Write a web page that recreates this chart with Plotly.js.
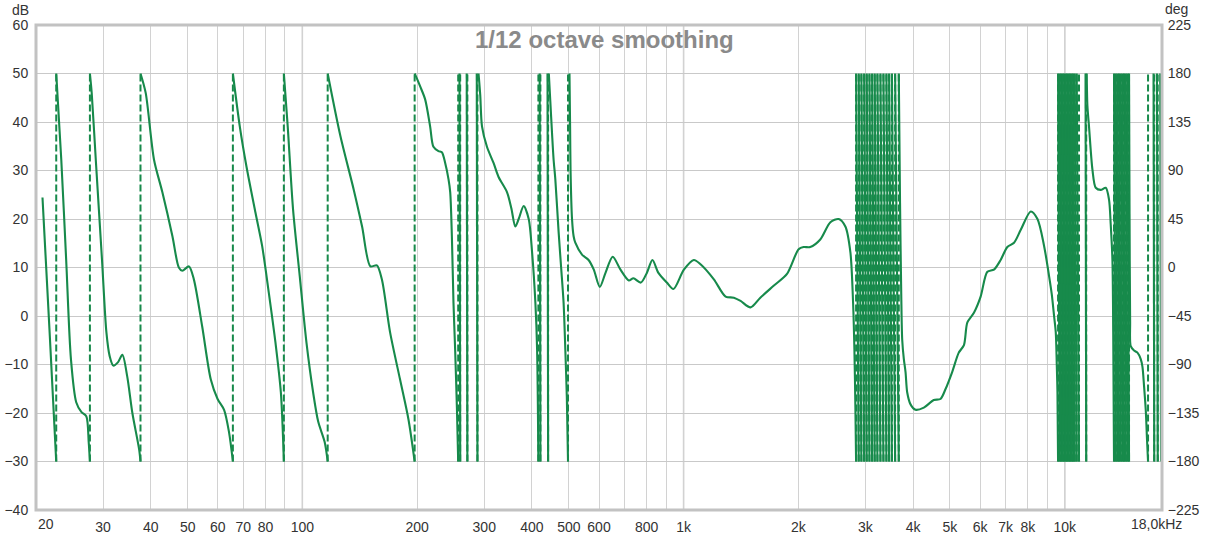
<!DOCTYPE html>
<html>
<head>
<meta charset="utf-8">
<script src="https://cdn.plot.ly/plotly-3.0.1.min.js"></script>
<style>
  html, body { margin: 0; padding: 0; background: #ffffff; }
  #chart { width: 1210px; height: 537px; }
</style>
</head>
<body>
<div id="chart"></div>
<script>
// Wrapped phase response (deg) against frequency (Hz), 1/12 octave smoothing.
// Each run of points falls from +180 to -180; null marks a wrap.

// 20 Hz - 500 Hz
const lowFreq = [
  20.8, 21.7, 22.6, null,
  22.6, 23.3, 24.0, 24.7, 25.5, 26.3, 27.1, 27.5, 27.7, null,
  27.7, 28.0, 28.7, 29.8, 30.6, 31.2, 31.9, 32.8, 33.7, 34.7, 35.8, 37.3, 37.6, null,
  37.6, 38.8, 40.8, 42.9, 45.6, 47.4, 48.4, 50.4, 51.9, 54.6, 57.5, 59.9, 62.3, 64.2, 65.7, null,
  65.7, 68.5, 71.3, 75.3, 78.4, 81.6, 85.0, 87.8, 89.4, null,
  89.4, 91.5, 94.5, 98.4, 102.5, 106.7, 110.0, 114.4, 116.5, null,
  116.5, 125.8, 136.4, 143.4, 150.8, 156.8, 161.6, 169.8, 180.4, 189.8, 197.0, null,
  197.0, 198.2, 203.7, 209.9, 216.3, 220.7, 227.5, 232.2, 236.9, 241.7, 244.2, 246.7, 249.1, 251.6, 254.3, 256.3, null,
  258.3, 259.4, null,
  269.8, 270.9, null,
  286.7, 287.9, null,
  289.8, 292.8, 295.9, 304.9, 317.3, 327.1, 344.1, 353.3, 361.9, 369.3, 380.7, 392.4, 400.5, 408.6, 412.8, 416.0, null,
  419.3, 421.1, null,
  439.6, 441.2, null,
  443.1, 447.0, 451.7, 456.1, 460.8, 470.1, 477.3, 484.5, 489.5, 494.0, 497.6
];
const lowDeg = [
  65, -58, -180, null,
  180, 100, 7, -85, -125, -134, -138, -162, -180, null,
  180, 162, 100, 7, -60, -82, -91, -88, -81, -101, -135, -169, -180, null,
  180, 162, 100, 70, 29, 0, -3, 1, -11, -55, -104, -122, -132, -153, -180, null,
  180, 131, 94, 51, 20, -23, -70, -116, -180, null,
  180, 131, 54, -8, -70, -116, -143, -162, -180, null,
  180, 122, 72, 38, 1, 2, -11, -60, -104, -141, -180, null,
  180, 178, 168, 156, 131, 112, 108, 107, 97, 82, 70, 29, -33, -76, -130, -180, null,
  180, -180, null,
  180, -180, null,
  180, -180, null,
  180, 160, 131, 112, 97, 84, 70, 55, 38, 45, 57, 45, 14, -33, -76, -180, null,
  180, -180, null,
  180, -180, null,
  180, 155, 125, 100, 82, 33, 0, -33, -76, -120, -180
];

// 500 Hz - 2.8 kHz
const midFreq = [502, 503.9, 505.2, 509.8, 514.7, 520.0, 541.4, 563.4, 581.4, 602.9, 624.0, 651.8,
  683.2, 718.4, 738.6, 772.4, 801, 828.6, 859.1, 903.8, 940.5, 1002, 1064, 1108, 1201, 1289, 1355,
  1411, 1499, 1590, 1723, 1868, 2004, 2065, 2150, 2284, 2428, 2553, 2658, 2740, 2785, 2807, 2824, 2836];
const midDeg = [180, 130, 91, 45, 29, 23, 12, 7, -2, -18, -5, 10,
  -2, -12, -10, -14, -5, 7, -5, -14, -20, -2, 7, 3, -11, -27, -28,
  -31, -37, -28, -17, -6, 17, 19, 19, 26, 42, 45, 38, 14, -33, -76, -130, -180];

// fast wraps, 2.8 - 3.7 kHz
const wraps3k = [2836, 2881, 2928, 2977, 3024, 3074, 3124, 3173, 3226, 3285, 3345, 3406, 3462, 3521, 3590, 3670];

// 3.7 kHz - 9.6 kHz
const highFreq = [3670, 3698, 3727, 3747, 3784, 3823, 3862, 3940, 4061, 4270, 4534, 4721, 4865, 5067,
  5273, 5440, 5554, 5779, 6018, 6267, 6522, 6791, 7072, 7364, 7669, 8146, 8483, 8829, 9099, 9249,
  9378, 9474, 9532, 9572, 9608];
const highDeg = [180, 60, -30, -67, -85, -97, -116, -127, -132, -130, -123, -122, -113, -97,
  -79, -72, -51, -42, -27, -4, -2, 7, 19, 23, 35, 52, 45, 20, -8, -25,
  -45, -60, -90, -116, -180];

// fast wraps, 9.6 - 10.9 kHz
const wraps10k = [9608, 9702, 9791, 9880, 9970, 10061, 10152, 10245, 10338, 10432, 10527, 10623, 10752, 10902];

// 11.3 kHz - 13.5 kHz
const shelfFreq = [11340, 11388, null, 11422, 11470, 11581, 11822, 12063, 12431, 12812, 13070, 13205, 13342, 13406, 13471];
const shelfDeg  = [180, -180, null, 180, 150, 131, 91, 74, 72, 74, 63, 40, 7, -60, -180];

// fast wraps, 13.5 - 14.7 kHz
const wraps14k = [13471, 13610, 13751, 13885, 14028, 14173, 14310, 14458, 14608, 14749];

// 14.7 kHz - 18 kHz
const topFreq = [14749, 14795, 14848, 14902, 15202, 15518, 15830, 15993, 16150, 16316, 16445, 16545, null,
  17104, 17176, null, 17459, 17544, null, 17811, 17897];
const topDeg  = [180, 50, -50, -73, -77, -79, -85, -92, -110, -132, -160, -180, null,
  180, -180, null, 180, -180, null, 180, -180];

// frequency grid and labels
const gridFreq = [20, 30, 40, 50, 60, 70, 80, 90, 100, 200, 300, 400, 500, 600, 700, 800, 900,
  1000, 2000, 3000, 4000, 5000, 6000, 7000, 8000, 9000, 10000];
const gridText = ['', '30', '40', '50', '60', '70', '80', '', '100', '200', '300', '400', '500', '600', '',
  '800', '', '1k', '2k', '3k', '4k', '5k', '6k', '7k', '8k', '', '10k'];
const decadeFreq = [100, 1000, 10000];
const dbTicks = [-40, -30, -20, -10, 0, 10, 20, 30, 40, 50, 60];
const degTicks = [-225, -180, -135, -90, -45, 0, 45, 90, 135, 180, 225];

// wrapped phase limits
const wrapTop = 180, wrapBottom = -180;

// a run of fast wraps: one full turn between consecutive wrap frequencies
function wrapRun(wraps) {
  const f = [], p = [];
  for (let i = 0; i < wraps.length - 1; i++) {
    if (i) { f.push(null); p.push(null); }
    f.push(wraps[i], wraps[i + 1]);
    p.push(wrapTop, wrapBottom);
  }
  return { f, p };
}

const pieces = [
  { f: lowFreq, p: lowDeg },
  { f: midFreq, p: midDeg },
  wrapRun(wraps3k),
  { f: highFreq, p: highDeg },
  wrapRun(wraps10k),
  { f: shelfFreq, p: shelfDeg },
  wrapRun(wraps14k),
  { f: topFreq, p: topDeg }
];

const phaseF = [], phaseP = [];
pieces.forEach((pc, k) => {
  if (k) { phaseF.push(null); phaseP.push(null); }
  phaseF.push(...pc.f);
  phaseP.push(...pc.p);
});

// dashed jump lines at every wrap
const jumpF = [], jumpP = [];
for (let i = 0; i < phaseF.length - 2; i++) {
  if (phaseF[i] !== null && phaseF[i + 1] === null && phaseF[i + 2] !== null) {
    jumpF.push(phaseF[i], phaseF[i], null);
    jumpP.push(phaseP[i], phaseP[i + 2], null);
  }
}

const green = '#178a4b';
const font = 'Liberation Sans, Arial, sans-serif';

const traces = [
  // keeps the dB axis active so its labels are drawn
  {
    x: [null], y: [null], yaxis: 'y', type: 'scatter', mode: 'lines',
    hoverinfo: 'skip', showlegend: false
  },
  {
    x: jumpF, y: jumpP, yaxis: 'y2', type: 'scatter', mode: 'lines',
    line: { color: green, width: 2, dash: '7px,3px' },
    connectgaps: false, hoverinfo: 'skip', showlegend: false
  },
  {
    x: phaseF, y: phaseP, yaxis: 'y2', type: 'scatter', mode: 'lines',
    line: { color: green, width: 2.1, shape: 'spline', smoothing: 0.8 },
    connectgaps: false, hoverinfo: 'skip', showlegend: false
  }
];

const shapes = decadeFreq.map(f => ({
  type: 'line', xref: 'x', yref: 'paper', x0: f, x1: f, y0: 0, y1: 1,
  line: { color: '#a3a3a3', width: 1.3 }, layer: 'below'
}));
shapes.push({
  type: 'rect', xref: 'paper', yref: 'paper', x0: 0, x1: 1, y0: 0, y1: 1,
  line: { color: '#c2c2c2', width: 3 }, layer: 'above'
});

const tickFont = { family: font, size: 14, color: '#333333' };

const layout = {
  width: 1210, height: 537,
  margin: { l: 36, r: 48, t: 25, b: 27 },
  paper_bgcolor: '#ffffff', plot_bgcolor: '#ffffff',
  showlegend: false,
  xaxis: {
    type: 'log', range: [Math.log10(20), Math.log10(18000)],
    tickmode: 'array', tickvals: gridFreq, ticktext: gridText,
    showgrid: true, gridcolor: '#d2d2d2', gridwidth: 1,
    zeroline: false, showline: false,
    ticks: 'outside', ticklen: 4, tickcolor: 'rgba(0,0,0,0)',
    tickfont: tickFont, fixedrange: true
  },
  yaxis: {
    range: [-40, 60], tickmode: 'array', tickvals: dbTicks,
    showgrid: true, gridcolor: '#c9c9c9', gridwidth: 1,
    zeroline: false, showline: false,
    ticks: 'outside', ticklen: 4, tickcolor: 'rgba(0,0,0,0)',
    tickfont: tickFont, fixedrange: true
  },
  yaxis2: {
    range: [-225, 225], overlaying: 'y', side: 'right',
    tickmode: 'array', tickvals: degTicks,
    showgrid: false, zeroline: false, showline: false,
    ticks: 'outside', ticklen: 2, tickcolor: 'rgba(0,0,0,0)',
    tickfont: tickFont, fixedrange: true
  },
  shapes: shapes,
  annotations: [
    {
      text: '1/12 octave smoothing', xref: 'paper', yref: 'paper', x: 0.505, y: 0.971,
      xanchor: 'center', yanchor: 'middle', showarrow: false,
      font: { family: font, size: 24, color: '#8a8a8a', weight: 'bold' }
    },
    {
      text: 'dB', xref: 'paper', yref: 'paper', x: 0, y: 1, xanchor: 'right', yanchor: 'bottom',
      xshift: -5, yshift: 5, showarrow: false, font: tickFont
    },
    {
      text: 'deg', xref: 'paper', yref: 'paper', x: 1, y: 1, xanchor: 'left', yanchor: 'bottom',
      xshift: 1, yshift: 6, showarrow: false, font: tickFont
    },
    {
      text: '20', xref: 'x', yref: 'paper', x: Math.log10(20), y: 0, xanchor: 'left', yanchor: 'top',
      yshift: -4, showarrow: false, font: tickFont
    },
    {
      text: '18,0kHz', xref: 'x', yref: 'paper', x: Math.log10(18000), y: 0, xanchor: 'center', yanchor: 'top',
      xshift: -6, yshift: -4, showarrow: false, font: tickFont
    }
  ]
};

Plotly.newPlot('chart', traces, layout, { displayModeBar: false, staticPlot: true });
</script>
</body>
</html>
